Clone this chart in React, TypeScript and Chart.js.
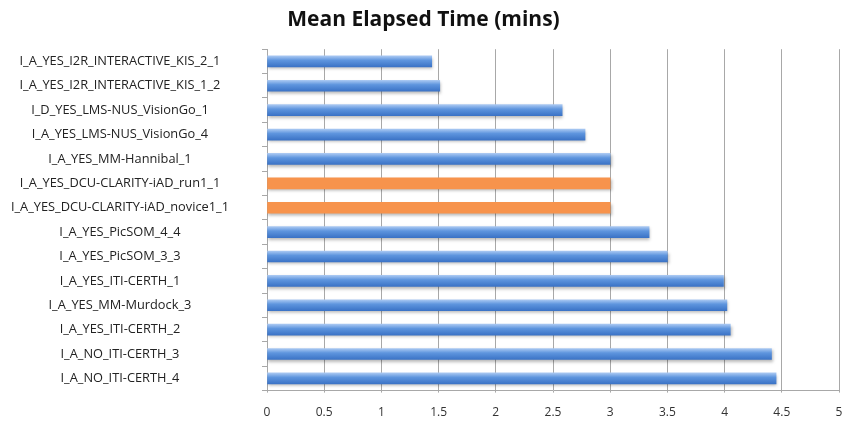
import React, { useEffect, useRef } from "react";
import { Chart, registerables } from "chart.js";

Chart.register(...registerables);

const categories = [
  "I_A_YES_I2R_INTERACTIVE_KIS_2_1",
  "I_A_YES_I2R_INTERACTIVE_KIS_1_2",
  "I_D_YES_LMS-NUS_VisionGo_1",
  "I_A_YES_LMS-NUS_VisionGo_4",
  "I_A_YES_MM-Hannibal_1",
  "I_A_YES_DCU-CLARITY-iAD_run1_1",
  "I_A_YES_DCU-CLARITY-iAD_novice1_1",
  "I_A_YES_PicSOM_4_4",
  "I_A_YES_PicSOM_3_3",
  "I_A_YES_ITI-CERTH_1",
  "I_A_YES_MM-Murdock_3",
  "I_A_YES_ITI-CERTH_2",
  "I_A_NO_ITI-CERTH_3",
  "I_A_NO_ITI-CERTH_4",
];

const meanMinutes = [1.44, 1.51, 2.58, 2.78, 3.0, 3.0, 3.0, 3.34, 3.5, 3.99, 4.02, 4.05, 4.41, 4.45];

const highlighted = [
  "I_A_YES_DCU-CLARITY-iAD_run1_1",
  "I_A_YES_DCU-CLARITY-iAD_novice1_1",
];

const xTicks = [0, 0.5, 1, 1.5, 2, 2.5, 3, 3.5, 4, 4.5, 5];

const titleText = "Mean Elapsed Time (mins)";

const FONT = "'Open Sans', Lato, sans-serif";

export default function App() {
  const ref = useRef<HTMLCanvasElement | null>(null);

  useEffect(() => {
    if (!ref.current) return;

    const shadowPlugin = {
      id: "barShadow",
      beforeDatasetsDraw(chart: any) {
        const ctx = chart.ctx;
        ctx.save();
        ctx.shadowColor = "rgba(0,0,0,0.28)";
        ctx.shadowBlur = 3;
        ctx.shadowOffsetX = 1;
        ctx.shadowOffsetY = 2;
      },
      afterDatasetsDraw(chart: any) {
        chart.ctx.restore();
      },
    };

    const chart = new Chart(ref.current, {
      type: "bar",
      data: {
        labels: categories,
        datasets: [
          {
            data: meanMinutes,
            backgroundColor: (c: any) => {
              const label = categories[c.dataIndex];
              if (highlighted.includes(label)) return "#F7934C";
              const chartObj = c.chart;
              const y = chartObj.scales?.y;
              if (!y || c.dataIndex === undefined) return "#4A86D6";
              const py = y.getPixelForValue(c.dataIndex);
              if (!Number.isFinite(py)) return "#4A86D6";
              const g = chartObj.ctx.createLinearGradient(0, py - 5.5, 0, py + 5.5);
              g.addColorStop(0, "#a9c8f2");
              g.addColorStop(0.4, "#5e95de");
              g.addColorStop(1, "#3b73c6");
              return g;
            },
            borderWidth: 0,
            barThickness: 11,
          },
        ],
      },
      options: {
        indexAxis: "y",
        animation: false,
        responsive: true,
        maintainAspectRatio: false,
        layout: { padding: { left: 8, right: 4, top: 0, bottom: 6 } },
        plugins: {
          legend: { display: false },
          tooltip: { enabled: false },
          title: {
            display: true,
            text: titleText,
            color: "#111",
            font: { family: FONT, size: 21, weight: "bold" },
            padding: { top: 7, bottom: 17 },
          },
        },
        scales: {
          x: {
            type: "linear",
            min: 0,
            max: 5,
            afterBuildTicks: (s: any) => {
              s.ticks = xTicks.map((v) => ({ value: v }));
            },
            afterFit: (s: any) => {
              s.paddingLeft = 0;
              s.paddingRight = 0;
              s.height = 29.4;
            },
            ticks: {
              color: "#333",
              font: { family: FONT, size: 12 },
              padding: 13,
              maxRotation: 0,
              autoSkip: false,
              callback: (v: any) => String(v),
            },
            grid: { color: "#a8a8a8", lineWidth: 1, tickLength: 2 },
            border: { display: true, color: "#a8a8a8" },
          },
          y: {
            type: "category",
            afterFit: (s: any) => {
              s.width = 259;
              s.paddingTop = 0;
              s.paddingBottom = 0;
            },
            ticks: {
              color: "#222",
              font: { family: FONT, size: 12.8 },
              crossAlign: "center",
              padding: 33,
              autoSkip: false,
            },
            grid: { display: true, drawOnChartArea: false, tickLength: 5, color: "#a8a8a8" },
            border: { display: true, color: "#a8a8a8" },
          },
        },
      },
      plugins: [shadowPlugin],
    } as any);

    return () => chart.destroy();
  }, []);

  return (
    <div style={{ position: "fixed", left: 0, top: 0, width: 843, height: 426, background: "#fff", overflow: "hidden" }}>
      <canvas ref={ref} />
    </div>
  );
}
